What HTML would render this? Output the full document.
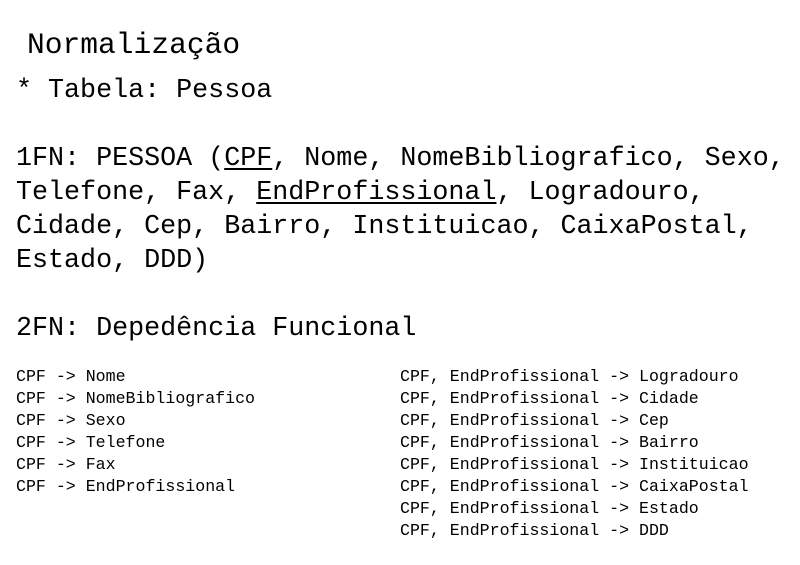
<!DOCTYPE html>
<html><head><meta charset="utf-8"><style>
body{margin:0;width:800px;height:565px;background:#fff;position:relative;overflow:hidden;font-family:"Liberation Mono",monospace;color:#000}
.l{position:absolute;white-space:pre;font-size:26.7px;line-height:34px;height:34px}
.s{position:absolute;white-space:pre;font-size:16.6px;line-height:22px;height:22px}
u{text-decoration:underline;text-underline-offset:3px;text-decoration-thickness:2px}
</style></head><body>
<div class="l" style="left:27px;top:28px;font-size:29.6px">Normalização</div>
<div class="l" style="left:16px;top:74px">* Tabela: Pessoa</div>
<div class="l" style="left:16px;top:142px">1FN: PESSOA (<u>CPF</u>, Nome, NomeBibliografico, Sexo,</div>
<div class="l" style="left:16px;top:176px">Telefone, Fax, <u>EndProfissional</u>, Logradouro,</div>
<div class="l" style="left:16px;top:210px">Cidade, Cep, Bairro, Instituicao, CaixaPostal,</div>
<div class="l" style="left:16px;top:244px">Estado, DDD)</div>
<div class="l" style="left:16px;top:312px">2FN: Depedência Funcional</div>
<div class="s" style="left:16px;top:366px">CPF -> Nome</div>
<div class="s" style="left:16px;top:388px">CPF -> NomeBibliografico</div>
<div class="s" style="left:16px;top:410px">CPF -> Sexo</div>
<div class="s" style="left:16px;top:432px">CPF -> Telefone</div>
<div class="s" style="left:16px;top:454px">CPF -> Fax</div>
<div class="s" style="left:16px;top:476px">CPF -> EndProfissional</div>
<div class="s" style="left:400px;top:366px">CPF, EndProfissional -> Logradouro</div>
<div class="s" style="left:400px;top:388px">CPF, EndProfissional -> Cidade</div>
<div class="s" style="left:400px;top:410px">CPF, EndProfissional -> Cep</div>
<div class="s" style="left:400px;top:432px">CPF, EndProfissional -> Bairro</div>
<div class="s" style="left:400px;top:454px">CPF, EndProfissional -> Instituicao</div>
<div class="s" style="left:400px;top:476px">CPF, EndProfissional -> CaixaPostal</div>
<div class="s" style="left:400px;top:498px">CPF, EndProfissional -> Estado</div>
<div class="s" style="left:400px;top:520px">CPF, EndProfissional -> DDD</div>
</body></html>
